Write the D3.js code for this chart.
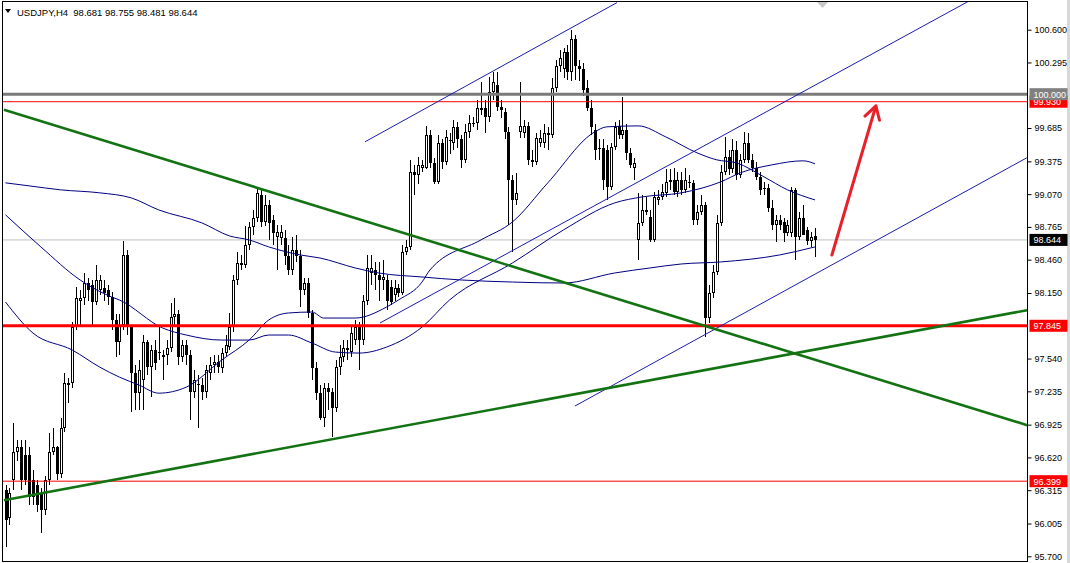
<!DOCTYPE html>
<html>
<head>
<meta charset="utf-8">
<script src="https://cdnjs.cloudflare.com/ajax/libs/d3/7.8.5/d3.min.js"></script>
<style>
  body { margin: 0; background: #fff; }
  svg { display: block; font-family: 'Liberation Sans', Arial, sans-serif; }
</style>
</head>
<body>
<svg id="mainsvg" width="1070" height="563"></svg>
<script>
// ---- data ----
const chartTitle = 'USDJPY,H4  98.681 98.755 98.481 98.644';

const opens = [
  96.32, 96.06, 96.41, 96.67, 96.72, 96.64, 96.64, 96.41, 96.36, 96.29,
  96.13, 96.41, 96.67, 96.72, 96.47, 96.89, 97.29, 97.31, 97.83, 98.08,
  98.10, 98.24, 98.22, 98.07, 98.18, 98.20, 98.18, 98.11, 97.90, 97.69,
  97.85, 98.50, 97.83, 97.41, 97.22, 97.34, 97.69, 97.46, 97.62, 97.59,
  97.55, 97.57, 97.64, 97.93, 97.95, 97.55, 97.67, 97.57, 97.23, 97.29,
  97.29, 97.23, 97.41, 97.48, 97.51, 97.45, 97.59, 97.65, 97.83, 98.27,
  98.43, 98.41, 98.60, 98.76, 98.85, 99.06, 98.81, 98.97, 98.83, 98.67,
  98.66, 98.66, 98.49, 98.36, 98.55, 98.49, 98.18, 98.24, 97.96, 97.45,
  97.22, 96.99, 97.27, 97.23, 97.08, 97.46, 97.55, 97.62, 97.60, 97.71,
  97.83, 97.71, 98.08, 98.34, 98.36, 98.32, 98.27, 98.27, 98.21, 98.13,
  98.20, 98.15, 98.53, 98.58, 99.28, 99.25, 99.31, 99.31, 99.62, 99.36,
  99.18, 99.55, 99.37, 99.57, 99.55, 99.69, 99.58, 99.39, 99.65, 99.73,
  99.73, 99.85, 99.87, 99.79, 100.02, 100.09, 99.88, 99.83, 99.65, 99.20,
  99.02, 99.65, 99.64, 99.70, 99.39, 99.37, 99.55, 99.55, 99.64, 99.62,
  100.06, 100.26, 100.23, 100.39, 100.21, 100.51, 100.26, 100.23, 100.06, 99.87,
  99.67, 99.50, 99.50, 99.48, 99.14, 99.51, 99.70, 99.62, 99.67, 99.45,
  99.31, 98.64, 98.80, 98.90, 98.86, 98.64, 99.02, 99.04, 99.08, 99.18,
  99.20, 99.09, 99.20, 99.11, 99.18, 99.17, 98.83, 98.90, 98.97, 97.92,
  98.15, 98.35, 98.80, 99.28, 99.42, 99.30, 99.48, 99.25, 99.39, 99.55,
  99.39, 99.31, 99.23, 99.13, 99.13, 98.94, 98.78, 98.83, 98.81, 98.71,
  98.71, 99.11, 98.67, 98.85, 98.74, 98.63, 98.681
];
const highs = [
  96.36, 96.34, 96.94, 96.78, 96.78, 96.78, 96.72, 96.50, 96.41, 96.34,
  96.45, 96.85, 96.89, 96.73, 96.99, 97.41, 97.36, 97.88, 98.21, 98.18,
  98.34, 98.29, 98.27, 98.41, 98.32, 98.27, 98.22, 98.16, 97.95, 97.95,
  98.63, 98.55, 97.85, 97.48, 97.53, 97.76, 97.71, 97.67, 97.71, 97.83,
  97.62, 97.71, 98.06, 98.10, 97.99, 97.71, 97.71, 97.62, 97.43, 97.39,
  97.36, 97.48, 97.55, 97.57, 97.57, 97.64, 97.76, 97.96, 98.32, 98.53,
  98.50, 98.77, 98.81, 98.92, 99.14, 99.13, 99.06, 99.02, 98.88, 98.78,
  98.78, 98.74, 98.60, 98.67, 98.69, 98.55, 98.29, 98.29, 97.99, 97.51,
  97.29, 97.31, 97.31, 97.27, 97.53, 97.67, 97.71, 97.71, 97.83, 97.90,
  97.88, 98.13, 98.50, 98.50, 98.44, 98.44, 98.46, 98.32, 98.27, 98.27,
  98.23, 98.60, 98.64, 99.39, 99.34, 99.42, 99.39, 99.70, 99.67, 99.41,
  99.62, 99.58, 99.67, 99.64, 99.76, 99.74, 99.62, 99.72, 99.81, 99.79,
  99.95, 100.11, 99.95, 100.16, 100.21, 100.21, 99.95, 99.87, 99.69, 99.25,
  99.27, 100.11, 99.76, 99.74, 99.48, 99.64, 99.67, 99.72, 99.69, 100.15,
  100.32, 100.41, 100.43, 100.46, 100.60, 100.55, 100.32, 100.29, 100.13, 99.95,
  99.72, 99.58, 99.58, 99.53, 99.55, 99.74, 99.76, 99.97, 99.72, 99.50,
  99.41, 99.08, 99.06, 99.04, 98.92, 99.09, 99.11, 99.16, 99.30, 99.30,
  99.31, 99.28, 99.28, 99.31, 99.25, 99.20, 98.97, 99.06, 99.00, 98.22,
  98.41, 98.88, 99.34, 99.60, 99.48, 99.58, 99.56, 99.44, 99.65, 99.64,
  99.44, 99.37, 99.28, 99.18, 99.16, 99.02, 98.88, 98.88, 98.85, 98.83,
  99.14, 99.13, 98.90, 98.97, 98.76, 98.72, 98.755
];
const lows = [
  95.79, 95.99, 96.32, 96.59, 96.32, 96.36, 96.18, 96.18, 96.11, 95.92,
  96.08, 96.36, 96.64, 96.41, 96.43, 96.86, 97.13, 97.27, 97.81, 97.85,
  98.04, 98.08, 97.85, 98.04, 98.13, 98.08, 98.04, 97.81, 97.55, 97.57,
  97.81, 97.76, 97.04, 97.06, 97.06, 97.06, 97.39, 97.18, 97.43, 97.53,
  97.34, 97.48, 97.60, 97.85, 97.48, 97.51, 97.48, 96.97, 97.17, 96.89,
  97.15, 97.17, 97.34, 97.41, 97.41, 97.41, 97.55, 97.62, 97.79, 98.22,
  98.36, 98.38, 98.55, 98.69, 98.81, 98.76, 98.77, 98.64, 98.60, 98.36,
  98.60, 98.41, 98.32, 98.32, 98.44, 98.02, 98.13, 97.92, 97.34, 97.15,
  96.97, 96.90, 97.06, 96.81, 97.04, 97.39, 97.51, 97.53, 97.55, 97.67,
  97.43, 97.67, 98.04, 98.22, 98.18, 98.08, 98.18, 97.99, 98.04, 98.08,
  98.11, 98.13, 98.50, 98.55, 99.06, 99.16, 99.28, 99.30, 99.31, 99.16,
  99.16, 99.30, 99.34, 99.44, 99.48, 99.50, 99.31, 99.36, 99.59, 99.69,
  99.67, 99.81, 99.64, 99.74, 99.95, 99.84, 99.78, 99.58, 98.78, 98.53,
  98.97, 99.59, 99.59, 99.34, 99.32, 99.34, 99.51, 99.50, 99.48, 99.59,
  100.02, 100.21, 100.15, 100.13, 100.12, 100.13, 100.12, 99.98, 99.84, 99.62,
  99.39, 99.39, 99.11, 99.02, 99.11, 99.48, 99.58, 99.58, 99.39, 99.31,
  99.20, 98.46, 98.77, 98.88, 98.62, 98.62, 98.97, 99.02, 99.04, 99.11,
  99.06, 99.04, 99.06, 99.08, 99.13, 98.78, 98.78, 98.88, 97.74, 97.87,
  98.10, 98.32, 98.77, 99.25, 99.25, 99.27, 99.20, 99.22, 99.36, 99.36,
  99.28, 99.20, 99.06, 99.06, 98.90, 98.74, 98.62, 98.74, 98.62, 98.68,
  98.67, 98.46, 98.64, 98.69, 98.60, 98.58, 98.481
];
const closes = [
  96.04, 96.29, 96.67, 96.72, 96.41, 96.41, 96.25, 96.25, 96.18, 96.13,
  96.41, 96.67, 96.72, 96.47, 96.89, 97.31, 97.31, 97.83, 98.10, 98.10,
  98.24, 98.18, 98.07, 98.27, 98.27, 98.15, 98.11, 97.90, 97.69, 97.85,
  98.50, 97.83, 97.41, 97.22, 97.43, 97.69, 97.46, 97.62, 97.50, 97.60,
  97.57, 97.64, 97.93, 97.95, 97.55, 97.67, 97.57, 97.23, 97.34, 97.30,
  97.23, 97.43, 97.48, 97.51, 97.46, 97.59, 97.67, 97.83, 98.27, 98.43,
  98.41, 98.60, 98.76, 98.85, 99.08, 98.81, 98.97, 98.80, 98.71, 98.72,
  98.72, 98.49, 98.36, 98.55, 98.49, 98.18, 98.24, 97.96, 97.45, 97.22,
  96.99, 97.27, 97.23, 97.08, 97.46, 97.55, 97.64, 97.64, 97.78, 97.83,
  97.71, 98.08, 98.38, 98.38, 98.32, 98.27, 98.30, 98.08, 98.07, 98.20,
  98.15, 98.53, 98.58, 99.28, 99.25, 99.34, 99.34, 99.62, 99.36, 99.18,
  99.55, 99.37, 99.60, 99.56, 99.69, 99.58, 99.39, 99.65, 99.73, 99.72,
  99.87, 99.87, 99.79, 100.02, 100.11, 99.88, 99.85, 99.65, 99.20, 99.02,
  99.08, 99.70, 99.70, 99.39, 99.37, 99.59, 99.59, 99.64, 99.62, 100.06,
  100.26, 100.34, 100.39, 100.21, 100.51, 100.26, 100.23, 100.04, 99.87, 99.69,
  99.48, 99.49, 99.20, 99.14, 99.51, 99.69, 99.62, 99.67, 99.45, 99.34,
  99.36, 98.80, 98.92, 98.92, 98.64, 99.04, 99.04, 99.09, 99.18, 99.20,
  99.09, 99.20, 99.11, 99.20, 99.17, 98.83, 98.90, 98.97, 97.92, 98.15,
  98.35, 98.80, 99.28, 99.42, 99.30, 99.48, 99.25, 99.39, 99.55, 99.39,
  99.31, 99.23, 99.11, 99.12, 98.94, 98.78, 98.83, 98.78, 98.71, 98.78,
  99.11, 98.67, 98.85, 98.69, 98.63, 98.67, 98.644
];

// moving averages: [bar index, price]
const maSlow = [[0,99.175],[6,99.147],[14,99.110],[24,99.082],[32,99.035],[39,98.923],[50,98.802],
  [57,98.681],[62,98.644],[67,98.579],[75,98.504],[80,98.476],[89,98.383],[95,98.336],[106,98.299],
  [116,98.271],[129,98.252],[142,98.243],[155,98.336],[164,98.383],[172,98.420],[182,98.439],
  [197,98.504],[206,98.579]];
const maMid = [[0,98.877],[9,98.579],[19,98.271],[27,98.113],[29,98.085],[40,97.824],[46,97.759],
  [55,97.712],[62,97.712],[67,97.759],[72,97.759],[78,97.684],[84,97.600],[90,97.591],[97,97.647],
  [106,97.833],[113,98.085],[129,98.429],[142,98.737],[155,98.988],[162,99.044],[172,99.082],
  [182,99.184],[187,99.268],[195,99.342],[203,99.380],[206,99.352]];
const maFast = [[0,98.066],[7,97.777],[17,97.619],[24,97.460],[29,97.367],[34,97.293],[39,97.218],
  [46,97.274],[55,97.526],[62,97.712],[67,97.899],[72,97.964],[78,97.973],[81,97.917],[89,97.917],
  [97,98.020],[100,98.085],[106,98.252],[108,98.364],[121,98.644],[129,98.811],[138,99.175],
  [150,99.650],[153,99.696],[161,99.705],[168,99.603],[176,99.454],[181,99.389],[186,99.361],
  [193,99.231],[199,99.110],[206,99.016]];

// visible scale labels (the ones under the level boxes are hidden in the original)
const priceTicks = [100.600, 100.295, 99.685, 99.375, 99.070, 98.765, 98.460, 98.150,
  97.540, 97.235, 96.925, 96.620, 96.315, 96.005, 95.700];

// drawn objects: [bar index, price]
const greenTrends = [
  [[-0.4, 99.855], [260, 96.920]],
  [[-0.4, 96.222], [260, 97.990]]
];
const blueTrends = [
  [[91.5, 99.557], [155.6, 100.852]],
  [[95.3, 97.871], [245.4, 100.871]],
  [[144.9, 97.098], [259.9, 99.408]]
];
const arrowLine = [[210.3, 98.504], [221.5, 99.892]];
const levelLines = [
  { price: 100.000, color: '#7a7a7a', width: 3 },
  { price: 99.930, color: '#ff0000', width: 1 },
  { price: 97.845, color: '#ff0000', width: 3 },
  { price: 96.399, color: '#ff0000', width: 1 }
];
const bidPrice = 98.644;
const priceBoxes = [
  { price: 99.930, fill: '#ff0000' },
  { price: 100.000, fill: '#808080' },
  { price: 98.644, fill: '#000000' },
  { price: 97.845, fill: '#ff0000' },
  { price: 96.399, fill: '#ff0000' }
];

// ---- layout ----
const svg = d3.select('#mainsvg');
const plot = { left: 2.5, top: 1.5, right: 1027.5, bottom: 561.5 };

const xScale = d3.scaleLinear().domain([0, opens.length - 1]).range([5.5, 815]);
const yScale = d3.scaleLinear().domain([95.700, 100.600]).range([556.3, 29.7]);

svg.append('rect').attr('width', 1070).attr('height', 563).attr('fill', '#fff');
svg.append('rect').attr('x', 1067).attr('width', 3).attr('height', 563).attr('fill', '#d8d8d8');

svg.append('defs').append('clipPath').attr('id', 'plotclip')
  .append('rect')
  .attr('x', plot.left).attr('y', plot.top)
  .attr('width', plot.right - plot.left).attr('height', plot.bottom - plot.top);

const g = svg.append('g').attr('clip-path', 'url(#plotclip)');

// bid line sits behind the bars
g.append('line')
  .attr('x1', plot.left).attr('x2', plot.right)
  .attr('y1', yScale(bidPrice)).attr('y2', yScale(bidPrice))
  .attr('stroke', '#c0c0c0').attr('stroke-width', 1);

// candles
const bars = d3.range(opens.length).map(i => ({
  i: i, o: opens[i], h: highs[i], l: lows[i], c: closes[i]
}));
const candle = g.append('g').attr('shape-rendering', 'crispEdges')
  .selectAll('g').data(bars).join('g');

candle.append('line')
  .attr('x1', d => Math.round(xScale(d.i)) + 0.5)
  .attr('x2', d => Math.round(xScale(d.i)) + 0.5)
  .attr('y1', d => yScale(d.h))
  .attr('y2', d => yScale(d.l))
  .attr('stroke', '#000');

candle.append('rect')
  .attr('x', d => d.c >= d.o ? Math.round(xScale(d.i)) - 0.5 : Math.round(xScale(d.i)) - 1)
  .attr('y', d => yScale(Math.max(d.o, d.c)) + (d.c >= d.o ? 0.5 : 0))
  .attr('width', d => d.c >= d.o ? 2 : 3)
  .attr('height', d => {
    const hgt = Math.abs(yScale(d.o) - yScale(d.c));
    return d.c >= d.o ? Math.max(hgt - 1, 0) : Math.max(hgt, 1);
  })
  .attr('fill', d => d.c >= d.o ? '#fff' : '#000')
  .attr('stroke', d => d.c >= d.o ? '#000' : 'none')
  .attr('stroke-width', 1);

// moving averages
const maLine = d3.line()
  .x(d => xScale(d[0]))
  .y(d => yScale(d[1]))
  .curve(d3.curveMonotoneX);
[maSlow, maMid, maFast].forEach(ma => {
  g.append('path').datum(ma)
    .attr('d', maLine)
    .attr('fill', 'none')
    .attr('stroke', '#000080')
    .attr('stroke-width', 1);
});

// horizontal levels
levelLines.forEach(lv => {
  g.append('line')
    .attr('x1', plot.left).attr('x2', plot.right)
    .attr('y1', yScale(lv.price)).attr('y2', yScale(lv.price))
    .attr('stroke', lv.color).attr('stroke-width', lv.width);
});

// trend lines
const straight = d3.line().x(d => xScale(d[0])).y(d => yScale(d[1]));
blueTrends.forEach(t => {
  g.append('path').attr('d', straight(t))
    .attr('stroke', '#1c1cb0').attr('stroke-width', 1).attr('fill', 'none');
});
greenTrends.forEach(t => {
  g.append('path').attr('d', straight(t))
    .attr('stroke', '#137313').attr('stroke-width', 2.6).attr('fill', 'none');
});

// red arrow
const a0 = [xScale(arrowLine[0][0]), yScale(arrowLine[0][1])];
const a1 = [xScale(arrowLine[1][0]), yScale(arrowLine[1][1])];
const ang = Math.atan2(a0[1] - a1[1], a0[0] - a1[0]);
const wing = 15;
const w1 = [a1[0] + wing * Math.cos(ang + 0.53), a1[1] + wing * Math.sin(ang + 0.53)];
const w2 = [a1[0] + wing * Math.cos(ang - 0.53), a1[1] + wing * Math.sin(ang - 0.53)];
g.append('path')
  .attr('d', `M${a0}L${a1}M${w1}L${a1}L${w2}`)
  .attr('fill', 'none').attr('stroke', '#e8202a')
  .attr('stroke-width', 3).attr('stroke-linecap', 'round').attr('stroke-linejoin', 'round');

// frame
svg.append('rect')
  .attr('x', plot.left).attr('y', plot.top)
  .attr('width', plot.right - plot.left).attr('height', plot.bottom - plot.top)
  .attr('fill', 'none').attr('stroke', '#000').attr('stroke-width', 1);

// price axis
const yAxis = d3.axisRight(yScale)
  .tickValues(priceTicks)
  .tickFormat(d3.format('.3f'))
  .tickSize(4).tickSizeOuter(0).tickPadding(3);
const yAxisGroup = svg.append('g')
  .attr('transform', `translate(${plot.right}, 0)`)
  .call(yAxis);
yAxisGroup.select('.domain').remove();
yAxisGroup.selectAll('.tick text').attr('font-size', '9px').attr('fill', '#000')
  .attr('font-family', "'Liberation Sans', Arial, sans-serif");
yAxisGroup.selectAll('.tick line').attr('stroke', '#000');

// price labels on the axis
priceBoxes.forEach(b => {
  const y = yScale(b.price);
  svg.append('rect')
    .attr('x', plot.right + 2).attr('y', y - 6)
    .attr('width', 38).attr('height', 12)
    .attr('fill', b.fill);
  svg.append('text')
    .attr('x', plot.right + 6).attr('y', y + 3.5)
    .attr('font-size', '9px').attr('fill', '#fff')
    .text(d3.format('.3f')(b.price));
});

// title and shift marker
svg.append('path').attr('d', 'M5,9L11,9L8,13Z').attr('fill', '#000');
svg.append('text')
  .attr('x', 17).attr('y', 15.5)
  .attr('font-size', '9.5px').attr('fill', '#000')
  .attr('xml:space', 'preserve')
  .style('white-space', 'pre')
  .text(chartTitle);
svg.append('path').attr('d', 'M817,2L828,2L822.5,8Z').attr('fill', '#c8c8c8');
</script>
</body>
</html>
